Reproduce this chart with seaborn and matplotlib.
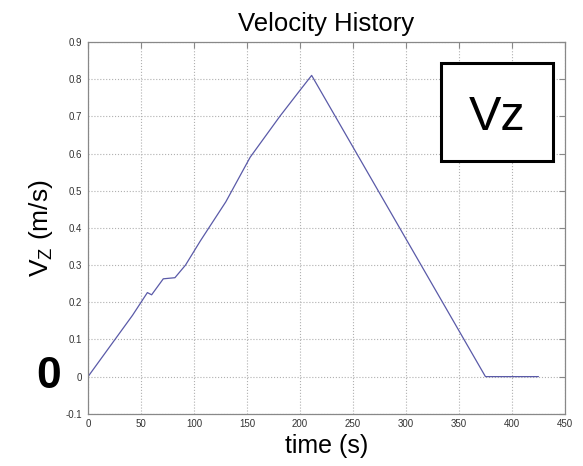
import pandas as pd
import seaborn as sns
import matplotlib.pyplot as plt
from matplotlib.patches import Rectangle

time_s = [0, 14, 28, 42, 56, 60, 71, 82, 92, 106, 130, 153, 181, 200, 211, 375, 425]
vz = [0, 0.055, 0.11, 0.165, 0.226, 0.22, 0.263, 0.266, 0.30, 0.365, 0.47, 0.59, 0.70, 0.77, 0.81, 0, 0]
x_ticks = [0, 50, 100, 150, 200, 250, 300, 350, 400, 450]
y_ticks = [-0.1, 0, 0.1, 0.2, 0.3, 0.4, 0.5, 0.6, 0.7, 0.8, 0.9]

df = pd.DataFrame({'time': time_s, 'vz': vz})

sns.set_style('white')
plt.rcParams['font.family'] = ['Liberation Sans', 'DejaVu Sans']
plt.rcParams['text.color'] = 'black'
plt.rcParams['axes.labelcolor'] = 'black'

fig = plt.figure(figsize=(5.83, 4.66), dpi=100)
ax = fig.add_axes([0.151, 0.112, 0.818, 0.798])

sns.lineplot(data=df, x='time', y='vz', ax=ax, color='#5a5aa8', linewidth=0.9)

ax.set_xlim(0, 450)
ax.set_ylim(-0.1, 0.9)
ax.set_xticks(x_ticks)
ax.set_yticks(y_ticks)
ax.set_xticklabels([str(t) for t in x_ticks])
ax.set_yticklabels(['%g' % t for t in y_ticks])
ax.grid(True, linestyle=':', color='#b0b0b0', linewidth=0.8)
ax.tick_params(direction='in', top=True, right=True, length=4, labelsize=7,
               colors='#888888', labelcolor='#333333', pad=4)
for s in ax.spines.values():
    s.set_color('#888888')
    s.set_linewidth(0.9)

ax.set_title('Velocity History', fontsize=18.5, pad=8)
ax.set_xlabel('time (s)', fontsize=18, labelpad=3)
ax.set_ylabel('V$_\\mathregular{Z}$ (m/s)', fontsize=19, labelpad=8)

# annotations on the picture
box = Rectangle((441 / 583, 1 - 161 / 466), 112 / 583, 98 / 466, transform=fig.transFigure,
                facecolor='white', edgecolor='black', linewidth=2.2, zorder=5)
fig.add_artist(box)
fig.text(497 / 583, 1 - 118 / 466, 'Vz', fontsize=35, ha='center', va='center', color='black', zorder=6)
fig.text(49 / 583, 1 - 377 / 466, '0', fontsize=32, fontweight='bold', ha='center', va='center', color='black')

fig.savefig('out.png', dpi=100)
